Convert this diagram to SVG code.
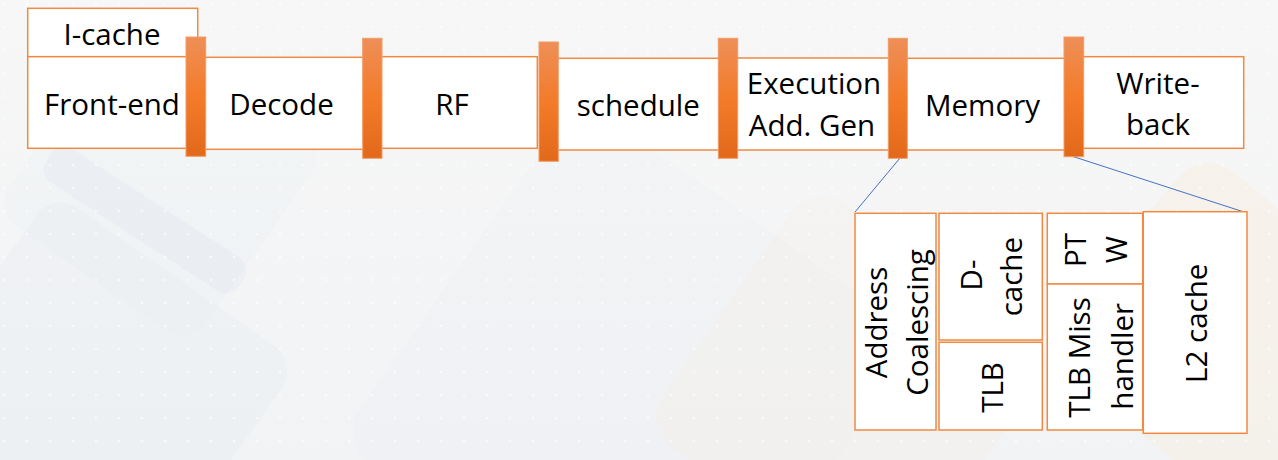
<svg xmlns="http://www.w3.org/2000/svg" width="1278" height="460" viewBox="0 0 1278 460">
<defs>
<linearGradient id="bg" x1="0" y1="0" x2="0" y2="1">
<stop offset="0" stop-color="#F7F7F7"/>
<stop offset="1" stop-color="#F2F3F5"/>
</linearGradient>
<linearGradient id="barg" x1="0" y1="0" x2="0" y2="1">
<stop offset="0" stop-color="#EE8F58"/>
<stop offset="0.5" stop-color="#F37B29"/>
<stop offset="1" stop-color="#E2691B"/>
</linearGradient>
<pattern id="dots" width="23" height="23" patternUnits="userSpaceOnUse">
<circle cx="4" cy="4" r="1.3" fill="#FFFFFF" opacity="0.6"/>
</pattern>
</defs>
<style>
.box{fill:#FFFFFF;stroke:#F08A42;stroke-width:1.5}
.bar{fill:url(#barg);stroke:#F19C66;stroke-width:1}
.t{font-family:"Open Sans","Noto Sans",sans-serif;font-size:29.5px;fill:#000000;text-anchor:middle}
.link{stroke:#4472C4;stroke-width:1;fill:none}
</style>
<g id="background">
<rect width="1278" height="460" fill="url(#bg)"/>
<rect x="-60" y="250" width="300" height="300" rx="30" transform="rotate(35 90 400)" fill="#E4EAF0" opacity="0.35"/>
<rect x="40" y="60" width="240" height="240" rx="28" transform="rotate(35 160 180)" fill="#E8EDF2" opacity="0.3"/>
<rect x="30" y="200" width="230" height="40" rx="16" transform="rotate(33 145 220)" fill="#DDE5EE" opacity="0.3"/>
<rect x="420" y="180" width="420" height="420" rx="40" transform="rotate(35 630 390)" fill="#ECEFF3" opacity="0.3"/>
<rect x="1090" y="200" width="260" height="260" rx="40" transform="rotate(40 1220 330)" fill="#F8EFD8" opacity="0.35"/>
<rect x="700" y="240" width="300" height="300" rx="40" transform="rotate(35 850 390)" fill="#F5F0E6" opacity="0.3"/>
<rect width="1278" height="460" fill="url(#dots)"/>
</g>
<g id="connectors">
<line class="link" x1="906.7" y1="150" x2="855" y2="212"/>
<line class="link" x1="1073" y1="156.5" x2="1244" y2="212"/>
</g>
<g id="icache"><rect class="box" x="27.7" y="8.3" width="170" height="48.4"/><text class="t" x="112" y="45">I-cache</text></g>
<g id="frontend"><rect class="box" x="27.7" y="56.7" width="170" height="91.6"/><text class="t" x="112" y="115">Front-end</text></g>
<g id="decode"><rect class="box" x="200" y="57.3" width="172" height="92"/><text class="t" x="281.5" y="115">Decode</text></g>
<g id="rf"><rect class="box" x="378" y="56.7" width="159.3" height="91.6"/><text class="t" x="452" y="115">RF</text></g>
<g id="schedule"><rect class="box" x="553" y="58.3" width="170" height="91.7"/><text class="t" x="638.3" y="115.5">schedule</text></g>
<g id="execution"><rect class="box" x="733" y="58" width="165" height="92"/><text class="t" x="814" y="94">Execution</text><text class="t" x="812" y="136">Add. Gen</text></g>
<g id="memory"><rect class="box" x="900" y="58.3" width="170" height="91.7"/><text class="t" x="982.5" y="116">Memory</text></g>
<g id="writeback"><rect class="box" x="1078" y="56.7" width="165.7" height="91.6"/><text class="t" x="1158" y="94">Write-</text><text class="t" x="1158" y="135">back</text></g>
<g id="latches">
<rect class="bar" x="186" y="37" width="19.7" height="119.3"/>
<rect class="bar" x="362.7" y="38.3" width="19.3" height="120"/>
<rect class="bar" x="539" y="42" width="19.3" height="119.3"/>
<rect class="bar" x="718.3" y="38.3" width="19.4" height="120"/>
<rect class="bar" x="888.3" y="38.3" width="19" height="120"/>
<rect class="bar" x="1064" y="37" width="19.7" height="119.7"/>
</g>
<g id="addr-coalescing"><rect class="box" x="855" y="213.3" width="81" height="216.7"/>
<text class="t" transform="translate(886.7 322.5) rotate(-90)">Address</text>
<text class="t" transform="translate(928.3 322.5) rotate(-90)">Coalescing</text></g>
<g id="dcache"><rect class="box" x="939" y="213.3" width="103.3" height="126.7"/>
<text class="t" transform="translate(981.7 275) rotate(-90)">D-</text>
<text class="t" transform="translate(1021.7 276.7) rotate(-90)">cache</text></g>
<g id="tlb"><rect class="box" x="939" y="342.3" width="103.3" height="87.7"/>
<text class="t" transform="translate(1003.3 387.5) rotate(-90)">TLB</text></g>
<g id="ptw"><rect class="box" x="1047.3" y="213.3" width="95.4" height="70.7"/>
<text class="t" transform="translate(1086 250) rotate(-90)">PT</text>
<text class="t" transform="translate(1127.3 249.7) rotate(-90)">W</text></g>
<g id="tlb-miss"><rect class="box" x="1047.3" y="284" width="95.4" height="146"/>
<text class="t" transform="translate(1090 357.5) rotate(-90)">TLB Miss</text>
<text class="t" transform="translate(1132.7 356.3) rotate(-90)">handler</text></g>
<g id="l2cache"><rect class="box" x="1143.3" y="211.7" width="103.7" height="221.6"/>
<text class="t" transform="translate(1206.7 323.3) rotate(-90)">L2 cache</text></g>
</svg>
